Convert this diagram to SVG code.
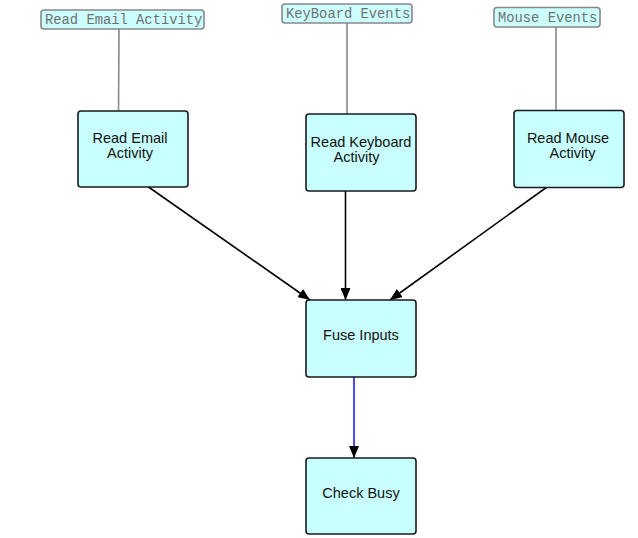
<svg xmlns="http://www.w3.org/2000/svg" width="638" height="538" viewBox="0 0 638 538">
<style>
.node rect{fill:#c8ffff;stroke:#1a1a1a;stroke-width:1.6}
.node text{font-family:"Liberation Sans",Arial,sans-serif;font-size:14.5px;fill:#111;text-anchor:middle}
.lbl rect{fill:#ccffff;stroke:#888;stroke-width:1.6}
.lbl text{font-family:"Liberation Mono","Courier New",monospace;font-size:13.8px;fill:#707070}
.tie{stroke:#888;stroke-width:1.6;fill:none}
.arr{stroke:#000;stroke-width:1.6;fill:none;marker-end:url(#ah)}
.blue{stroke:#2020ee;stroke-width:1.6;fill:none;marker-end:url(#ah)}
</style>
<defs>
<marker id="ah" viewBox="0 0 12 10" refX="12" refY="5" markerWidth="12" markerHeight="10" markerUnits="userSpaceOnUse" orient="auto">
<path d="M0,0 L12,5 L0,10 Z" fill="#000"/>
</marker>
</defs>
<rect width="638" height="538" fill="#fff"/>
<g id="connectors">
<line class="tie" x1="119" y1="29" x2="118.5" y2="111"/>
<line class="tie" x1="347" y1="23" x2="347" y2="114"/>
<line class="tie" x1="556" y1="27" x2="556" y2="111"/>
<line class="arr" x1="148.5" y1="187" x2="310" y2="300"/>
<line class="arr" x1="345.5" y1="191" x2="345.5" y2="300"/>
<line class="arr" x1="547" y1="187" x2="390" y2="300"/>
<line class="blue" x1="354" y1="377" x2="354" y2="458"/>
</g>
<g id="label-email" class="lbl">
<rect x="41" y="10" width="163" height="19" rx="3"/>
<text x="45" y="24">Read Email Activity</text>
</g>
<g id="label-keyboard" class="lbl">
<rect x="282" y="4" width="130" height="19" rx="3"/>
<text x="286" y="18">KeyBoard Events</text>
</g>
<g id="label-mouse" class="lbl">
<rect x="494" y="7.5" width="106" height="19.5" rx="3"/>
<text x="498" y="21.5">Mouse Events</text>
</g>
<g id="node-email" class="node">
<rect x="78" y="111" width="110" height="76" rx="3"/>
<text x="130" y="143">Read Email</text>
<text x="130" y="158">Activity</text>
</g>
<g id="node-keyboard" class="node">
<rect x="306" y="114" width="110" height="77" rx="3"/>
<text x="361" y="146.5">Read Keyboard</text>
<text x="356.5" y="161.5">Activity</text>
</g>
<g id="node-mouse" class="node">
<rect x="514" y="110.5" width="110" height="77" rx="3"/>
<text x="568" y="143">Read Mouse</text>
<text x="572.5" y="158">Activity</text>
</g>
<g id="node-fuse" class="node">
<rect x="306" y="300" width="110" height="77" rx="3"/>
<text x="361" y="340">Fuse Inputs</text>
</g>
<g id="node-check" class="node">
<rect x="306" y="458" width="110" height="76" rx="3"/>
<text x="361" y="498">Check Busy</text>
</g>
</svg>
